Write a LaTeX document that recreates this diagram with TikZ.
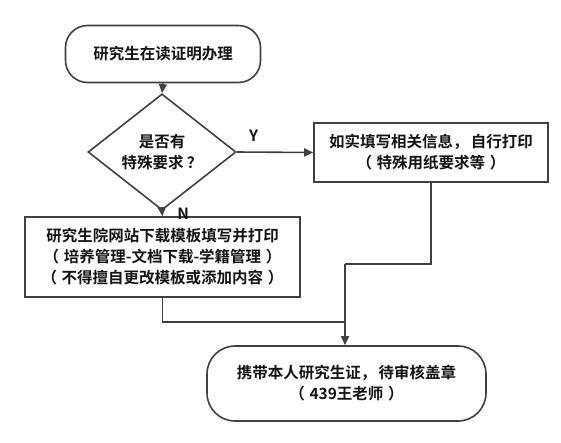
\documentclass[tikz,border=0pt]{standalone}
\usepackage{fontspec}
\setmainfont{Noto Sans CJK SC}[BoldFont={Noto Sans CJK SC Bold}]
\usetikzlibrary{shapes.geometric,arrows.meta}
\definecolor{linec}{HTML}{404040}
\definecolor{txtc}{HTML}{141414}
\newcommand\Lp{\kern0.3em（\kern0.3em}
\newcommand\Rp{\kern0.3em）\kern0.3em}
\newcommand\Cm{，\kern0.15em}
\tikzset{
  x=1pt,y=-1pt,
  every node/.style={font=\fontsize{15.5}{21}\selectfont\bfseries, text=txtc},
  boxline/.style={draw=linec, line width=1.6pt},
  procbox/.style={boxline, align=center, inner sep=0pt},
  conn/.style={draw=linec, line width=1.6pt},
  arr/.style={conn, -{Triangle[length=9pt,width=8pt]}},
}
\begin{document}
\begin{tikzpicture}
\useasboundingbox (0,0) rectangle (561,442);
\node[boxline, rounded corners=22pt, minimum width=195pt, minimum height=57pt, align=center, inner sep=0pt] (start) at (163,54) {研究生在读证明办理};
\node[boxline, diamond, minimum width=148pt, minimum height=73pt, inner sep=0pt, align=center] (dec) at (162,152) {是否有\\特殊要求\kern0.2em？};
\node[procbox, minimum width=234pt, minimum height=59pt] (right) at (431,152.5) {如实填写相关信息\Cm 自行打印\\\Lp 特殊用纸要求等\Rp};
\node[procbox, minimum width=275pt, minimum height=80pt] (left) at (162.5,257) {研究生院网站下载模板填写并打印\\\Lp 培养管理-文档下载-学籍管理\Rp\\\Lp 不得擅自更改模板或添加内容\Rp};
\node[boxline, rounded corners=28pt, minimum width=279pt, minimum height=75pt, align=center, inner sep=0pt] (final) at (346.5,383.5) {携带本人研究生证\Cm 待审核盖章\\\Lp 439王老师\Rp};
\coordinate (j1) at (345,322);
\coordinate (j2) at (345,264);
\draw[arr] (start.south) -- (dec.north);
\draw[arr] (dec.east) -- node[pos=0.22, above=6pt] {Y} (right.west);
\draw[arr] (dec.south) -- node[pos=0.45, right=11pt] {N} (left.north);
\draw[conn] (left.south) |- (j1);
\draw[conn] (right.south) |- (j2);
\draw[arr] (j2) -- (j2 |- final.north);
\end{tikzpicture}
\end{document}
